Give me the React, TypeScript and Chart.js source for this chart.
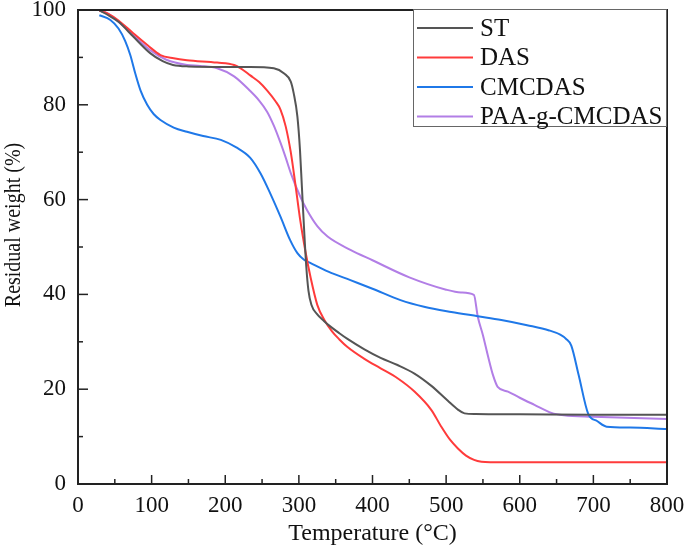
import { useEffect, useRef } from 'react';
import { Chart, registerables } from 'chart.js';
Chart.register(...registerables);

const xTickValues = [0, 100, 200, 300, 400, 500, 600, 700, 800];
const yTickValues = [0, 20, 40, 60, 80, 100];
const xTitle = 'Temperature (°C)';
const yTitle = 'Residual weight (%)';
const seriesNames = ['ST', 'DAS', 'CMCDAS', 'PAA-g-CMCDAS'];
const seriesColors = ['#555555', '#ff3b3b', '#1f78e8', '#b27ee6'];

const stT = [29, 40, 55, 75, 98, 115, 129, 150, 200, 234, 266, 280, 289, 293, 298, 301.5, 304, 307, 310, 313, 317, 325, 334, 343, 355, 366, 389, 411, 434, 457, 480, 502, 516, 525, 540, 600, 700, 800];
const stW = [99.9, 99, 97.5, 94.4, 90.9, 89.2, 88.4, 88.1, 88, 88, 87.7, 86.6, 84.9, 82.4, 77.5, 70.5, 63, 54, 46, 40.8, 37.8, 35.8, 34.4, 33.2, 31.8, 30.6, 28.4, 26.6, 25.1, 23.3, 20.7, 17.6, 15.7, 14.9, 14.75, 14.7, 14.6, 14.6];

const dasT = [29, 40, 55, 75, 95, 112, 130, 148, 189, 212, 221, 234, 246, 257, 268, 275, 282, 289, 295, 302, 309, 316, 325, 335, 345, 355, 366, 389, 411, 434, 457, 480, 493, 505, 516, 527, 538, 548, 560, 600, 700, 800];
const dasW = [99.9, 99.3, 97.8, 95.1, 92.5, 90.5, 89.8, 89.4, 88.9, 88.4, 87.7, 86.2, 84.8, 83, 80.8, 79, 75.5, 70, 63.5, 55.5, 49, 43.5, 37.8, 34.5, 32.2, 30.5, 28.9, 26.4, 24.4, 22.3, 19.5, 15.6, 12.2, 9.4, 7.5, 6, 5.1, 4.7, 4.6, 4.6, 4.6, 4.6];

const cmcT = [29, 44, 55, 64, 71, 78, 85, 94, 103, 112, 130, 148, 170, 194, 215, 234, 248, 262, 275, 288, 298, 307, 316, 340, 370, 400, 438, 470, 507, 543, 575, 610, 640, 655, 663, 670, 680, 693, 705, 718, 750, 800];
const cmcW = [98.9, 97.9, 96.1, 93.5, 90.5, 86.5, 83, 80, 78, 76.8, 75.2, 74.3, 73.4, 72.6, 71, 68.8, 65.5, 61, 56.4, 51.5, 48.7, 47.3, 46.6, 44.8, 43, 41.2, 38.8, 37.4, 36.3, 35.4, 34.6, 33.5, 32.4, 31.5, 30.6, 29.2, 23, 14.8, 13.3, 12.1, 11.9, 11.6];

const paaT = [29, 40, 55, 75, 98, 120, 148, 166, 189, 212, 234, 246, 257, 266, 275, 282, 289, 302, 311, 325, 339, 370, 400, 450, 500, 520, 537.7, 543, 550, 557, 564, 570, 584, 600, 620, 643, 660, 700, 800];
const paaW = [99.9, 99.3, 97.5, 94.7, 91.5, 89.5, 88.4, 88.2, 87.7, 86, 82.9, 80.9, 78.5, 75.6, 72, 68.9, 65.6, 60.6, 57.8, 54.4, 52.2, 49.4, 47.2, 43.6, 41, 40.4, 39.9, 35.3, 31.4, 26.9, 22.8, 20.5, 19.5, 18.2, 16.7, 15, 14.5, 14.2, 13.7];

const seriesT = [stT, dasT, cmcT, paaT];
const seriesW = [stW, dasW, cmcW, paaW];

const FONT = "'Liberation Serif', 'Times New Roman', serif";

const framePlugin = {
  id: 'frameAndLegend',
  afterDatasetsDraw(chart: any) {
    const { ctx, chartArea: a, scales } = chart;
    const xs = scales.x;
    const ys = scales.y;
    ctx.save();
    ctx.strokeStyle = '#222';
    ctx.lineWidth = 1.5;
    const xt = xs.ticks.map((t: any) => t.value);
    for (let i = 0; i < xt.length; i++) {
      const px = xs.getPixelForValue(xt[i]);
      ctx.beginPath(); ctx.moveTo(px, a.bottom); ctx.lineTo(px, a.bottom - 9); ctx.stroke();
      if (i < xt.length - 1) {
        const pm = xs.getPixelForValue((xt[i] + xt[i + 1]) / 2);
        ctx.beginPath(); ctx.moveTo(pm, a.bottom); ctx.lineTo(pm, a.bottom - 5); ctx.stroke();
      }
    }
    const yt = ys.ticks.map((t: any) => t.value);
    for (let i = 0; i < yt.length; i++) {
      const py = ys.getPixelForValue(yt[i]);
      ctx.beginPath(); ctx.moveTo(a.left, py); ctx.lineTo(a.left + 10, py); ctx.stroke();
      if (i < yt.length - 1) {
        const pm = ys.getPixelForValue((yt[i] + yt[i + 1]) / 2);
        ctx.beginPath(); ctx.moveTo(a.left, pm); ctx.lineTo(a.left + 5, pm); ctx.stroke();
      }
    }
    ctx.lineWidth = 2;
    ctx.strokeRect(a.left, a.top, a.right - a.left, a.bottom - a.top);

    // y-axis title (slightly widened glyphs, as in the reference)
    ctx.save();
    ctx.translate(14, 225);
    ctx.rotate(-Math.PI / 2);
    ctx.scale(1, 1.2);
    ctx.font = `20px ${FONT}`;
    ctx.fillStyle = '#111';
    ctx.textAlign = 'center';
    ctx.textBaseline = 'middle';
    ctx.fillText(yTitle, 0, 0);
    ctx.restore();

    // legend
    const bw = 253, bh = 117;
    const bx = a.right - bw - 1, by = a.top - 1;
    ctx.fillStyle = '#fff';
    ctx.fillRect(bx, by, bw, bh);
    ctx.strokeStyle = '#666';
    ctx.lineWidth = 1;
    ctx.strokeRect(bx + 0.5, by + 0.5, bw, bh);
    ctx.font = `25px ${FONT}`;
    ctx.textBaseline = 'middle';
    ctx.textAlign = 'left';
    chart.data.datasets.forEach((ds: any, i: number) => {
      const cy = by + 19 + i * 29.5;
      ctx.strokeStyle = ds.borderColor;
      ctx.lineWidth = 2;
      ctx.beginPath(); ctx.moveTo(bx + 4, cy); ctx.lineTo(bx + 60, cy); ctx.stroke();
      ctx.fillStyle = '#111';
      ctx.fillText(ds.label, bx + 67, cy + 1);
    });
    ctx.restore();
  },
};

export default function App() {
  const ref = useRef<HTMLCanvasElement>(null);
  useEffect(() => {
    if (!ref.current) return;
    const datasets = seriesNames.map((name, i) => ({
      label: name,
      data: seriesT[i].map((t, j) => ({ x: t, y: seriesW[i][j] })),
      borderColor: seriesColors[i],
      backgroundColor: seriesColors[i],
      borderWidth: 2,
      pointRadius: 0,
      cubicInterpolationMode: 'monotone' as const,
      fill: false,
    }));
    const chart = new Chart(ref.current, {
      type: 'line',
      data: { datasets },
      plugins: [framePlugin],
      options: {
        animation: false,
        responsive: false,
        devicePixelRatio: 1,
        layout: { padding: { top: 10, right: 18, left: 0, bottom: 0 } },
        plugins: { legend: { display: false }, tooltip: { enabled: false } },
        scales: {
          x: {
            type: 'linear',
            min: 0,
            max: 800,
            afterBuildTicks: (s: any) => { s.ticks = xTickValues.map((v) => ({ value: v })); },
            afterFit: (s: any) => { s.height = 66; s.paddingLeft = 0; s.paddingRight = 0; },
            grid: { display: false, drawTicks: false },
            border: { display: true, color: '#222', width: 2 },
            ticks: { color: '#111', font: { family: FONT, size: 23 }, padding: 8, maxRotation: 0 },
            title: { display: true, text: xTitle, color: '#111', font: { family: FONT, size: 24 }, padding: { top: 0, bottom: 2 } },
          },
          y: {
            type: 'linear',
            min: 0,
            max: 100,
            afterBuildTicks: (s: any) => { s.ticks = yTickValues.map((v) => ({ value: v })); },
            afterFit: (s: any) => { s.width = 78; s.paddingTop = 0; s.paddingBottom = 0; },
            grid: { display: false, drawTicks: false },
            border: { display: true, color: '#222', width: 2 },
            ticks: { color: '#111', font: { family: FONT, size: 23 }, padding: 12 },
            title: { display: false },
          },
        },
      },
    });
    return () => chart.destroy();
  }, []);
  return (
    <div style={{ position: 'fixed', left: 0, top: 0, width: 685, height: 550, background: '#fff' }}>
      <canvas ref={ref} width={685} height={550} style={{ width: 685, height: 550 }} />
    </div>
  );
}
